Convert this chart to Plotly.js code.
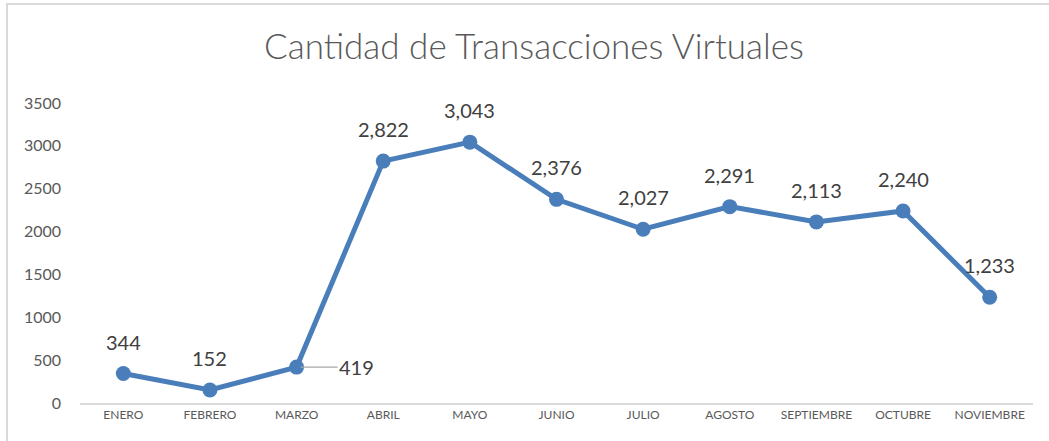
<!DOCTYPE html>
<html>
<head>
<meta charset="utf-8">
<script src="https://cdn.plot.ly/plotly-3.0.1.min.js"></script>
<style>
html,body{margin:0;padding:0;background:#fff;}
#wrap{position:relative;width:1049px;height:441px;overflow:hidden;}
#chart{width:1049px;height:441px;}
#frame{position:absolute;left:6px;top:3px;width:1100px;height:500px;border-top:2px solid #d9d9d9;border-left:2px solid #d9d9d9;pointer-events:none;}
</style>
</head>
<body>
<div id="wrap"><div id="chart"></div><div id="frame"></div></div>
<script>
const months = ["ENERO","FEBRERO","MARZO","ABRIL","MAYO","JUNIO","JULIO","AGOSTO","SEPTIEMBRE","OCTUBRE","NOVIEMBRE"];
const transacciones = [344, 152, 419, 2822, 3043, 2376, 2027, 2291, 2113, 2240, 1233];
const yTicks = [0, 500, 1000, 1500, 2000, 2500, 3000, 3500];
const chartTitle = "Cantidad de Transacciones Virtuales";

const fontFam = "Lato, 'Open Sans', sans-serif";
const lineColor = "#4a7ebb";

const fmt = v => v.toLocaleString("en-US");

const annotations = months.map((m, i) => {
  const v = transacciones[i];
  if (m === "MARZO") {
    return {x: m, y: v, xref: "x", yref: "y", text: fmt(v), showarrow: true,
      arrowhead: 0, arrowwidth: 1.2, arrowcolor: "#a6a6a6", ax: 60, ay: 0,
      standoff: 4, font: {family: fontFam, size: 20, color: "#404040"}};
  }
  return {x: m, y: v, xref: "x", yref: "y", text: fmt(v), showarrow: false,
    yshift: 32, font: {family: fontFam, size: 20, color: "#404040"}};
});

const trace = {
  x: months, y: transacciones, type: "scatter", mode: "lines+markers",
  line: {color: lineColor, width: 5},
  marker: {color: lineColor, size: 15},
  hoverinfo: "skip"
};

const layout = {
  width: 1049, height: 441,
  margin: {l: 80, r: 16, t: 103, b: 38},
  paper_bgcolor: "#fff", plot_bgcolor: "#fff",
  showlegend: false,
  title: {text: chartTitle, x: 534/1049, xref: "container", xanchor: "center",
    y: 1 - 47/441, yref: "container", yanchor: "middle",
    font: {family: fontFam, size: 35, weight: 300, color: "#595959"}},
  xaxis: {type: "category", range: [-0.5, 10.5], showgrid: false, zeroline: false,
    showline: true, linecolor: "#d9d9d9", linewidth: 2, ticks: "",
    tickfont: {family: fontFam, size: 12, color: "#595959"}, fixedrange: true},
  yaxis: {range: [0, 3500], tickvals: yTicks, ticktext: yTicks.map(String),
    showgrid: false, zeroline: false, showline: false, ticks: "",
    ticklabelstandoff: 18,
    tickfont: {family: fontFam, size: 16, color: "#595959"}, fixedrange: true},
  annotations: annotations
};

Plotly.newPlot("chart", [trace], layout, {displayModeBar: false, staticPlot: true});
</script>
</body>
</html>
